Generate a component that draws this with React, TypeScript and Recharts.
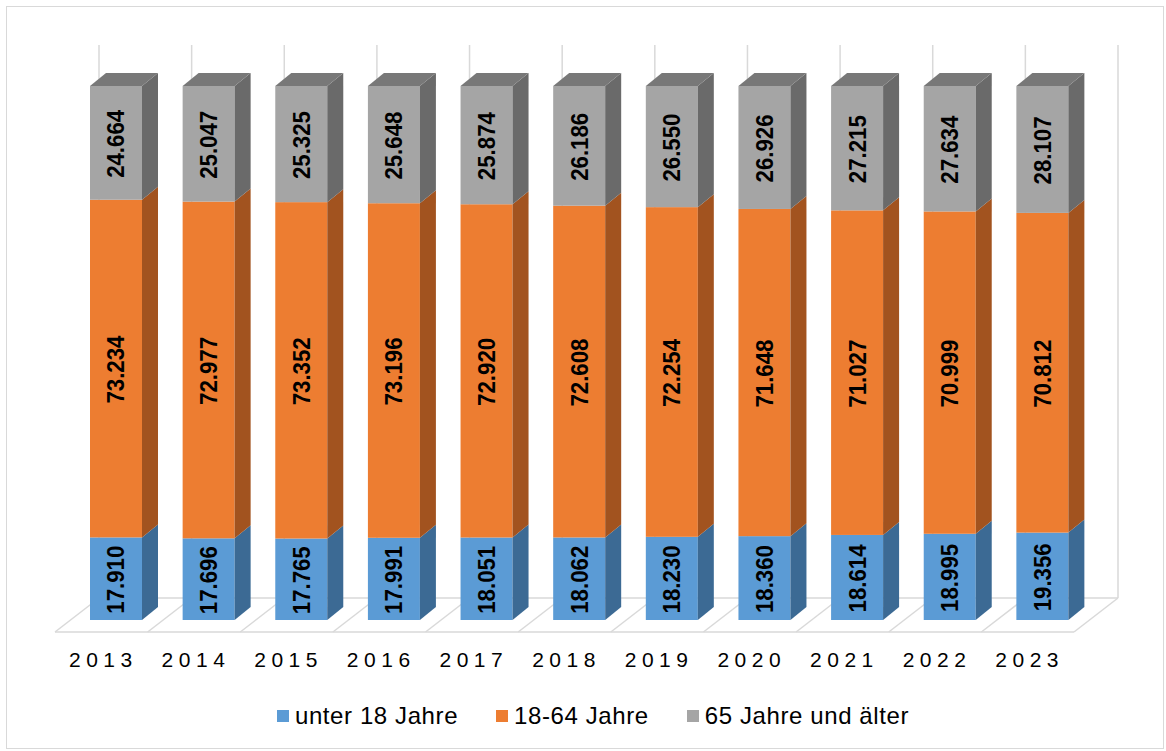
import React from 'react';
import { BarChart, Bar, XAxis, YAxis, LabelList, Legend } from 'recharts';

const years = ['2013', '2014', '2015', '2016', '2017', '2018', '2019', '2020', '2021', '2022', '2023'];
const under18 = [17910, 17696, 17765, 17991, 18051, 18062, 18230, 18360, 18614, 18995, 19356];
const age18to64 = [73234, 72977, 73352, 73196, 72920, 72608, 72254, 71648, 71027, 70999, 70812];
const age65plus = [24664, 25047, 25325, 25648, 25874, 26186, 26550, 26926, 27215, 27634, 28107];
const seriesNames = ['unter 18 Jahre', '18-64 Jahre', '65 Jahre und älter'];

const data = years.map((year, i) => ({
  year,
  u18: under18[i],
  mid: age18to64[i],
  old: age65plus[i],
}));

const W = 1166;
const H = 751;
const PLOT_LEFT = 70;
const PLOT_RIGHT = 1089;
const PLOT_TOP = 86;
const PLOT_BOTTOM = 620;
const BAND = (PLOT_RIGHT - PLOT_LEFT) / years.length;

// 3d depth of the boxes
const DX = 16;
const DY = -13;

const FONT = '"Liberation Sans", Arial, sans-serif';
const GRID = '#D9D9D9';

const fmt = (v: number) => `${Math.floor(v / 1000)}.${String(v % 1000).padStart(3, '0')}`;

const makeShape = (side: string, top?: string) => (props: any) => {
  const { x, y, width, height, fill } = props;
  if (!height || height <= 0) return <g />;
  const r = x + width;
  return (
    <g>
      <rect x={x} y={y} width={width} height={height} fill={fill} />
      <polygon
        points={`${r},${y} ${r + DX},${y + DY} ${r + DX},${y + height + DY} ${r},${y + height}`}
        fill={side}
      />
      {top && (
        <polygon
          points={`${x},${y} ${x + DX},${y + DY} ${r + DX},${y + DY} ${r},${y}`}
          fill={top}
        />
      )}
    </g>
  );
};

const renderValue = (props: any) => {
  const vb = props.viewBox || {};
  const x = props.x ?? vb.x;
  const y = props.y ?? vb.y;
  const width = props.width ?? vb.width;
  const height = props.height ?? vb.height;
  const cx = x + width / 2;
  const cy = y + height / 2 + 1;
  return (
    <text
      x={cx}
      y={cy}
      transform={`rotate(-90 ${cx} ${cy})`}
      textAnchor="middle"
      dominantBaseline="central"
      fontFamily={FONT}
      fontWeight="bold"
      fontSize={24}
      textLength={68}
      lengthAdjust="spacingAndGlyphs"
      fill="#000"
    >
      {fmt(Number(props.value))}
    </text>
  );
};

const YearTick = (props: any) => {
  const { x, payload } = props;
  return (
    <text
      x={x - 13}
      y={667}
      textAnchor="middle"
      fontFamily={FONT}
      fontSize={21}
      letterSpacing={5.5}
      fill="#000"
    >
      {payload.value}
    </text>
  );
};

const renderLegend = (props: any) => {
  const items = [...(props.payload || [])].sort(
    (a: any, b: any) => seriesNames.indexOf(a.value) - seriesNames.indexOf(b.value)
  );
  return (
    <div
      style={{
        display: 'flex',
        justifyContent: 'center',
        alignItems: 'center',
        paddingLeft: 20,
        fontFamily: FONT,
        fontSize: 24,
        letterSpacing: 0.6,
        color: '#000',
      }}
    >
      {items.map((it: any, i: number) => (
        <div key={i} style={{ display: 'flex', alignItems: 'center', marginRight: i < items.length - 1 ? 38 : 0 }}>
          <span style={{ width: 12, height: 12, background: it.color, marginRight: 6, display: 'inline-block' }} />
          <span>{it.value}</span>
        </div>
      ))}
    </div>
  );
};

// floor and back wall of the 3d plot area
const Backdrop = () => {
  const floorFront = 632;
  const floorBack = 598;
  const frontLeft = PLOT_LEFT - 15;
  const backLeft = PLOT_LEFT + 29;
  const lines = [];
  for (let i = 0; i <= years.length; i++) {
    const fx = frontLeft + i * BAND;
    const bx = backLeft + i * BAND;
    lines.push(<line key={`w${i}`} x1={bx} y1={45} x2={bx} y2={floorBack} stroke={GRID} strokeWidth={1.5} />);
    lines.push(<line key={`f${i}`} x1={fx} y1={floorFront} x2={bx} y2={floorBack} stroke={GRID} strokeWidth={1.5} />);
  }
  const frontRight = frontLeft + years.length * BAND;
  const backRight = backLeft + years.length * BAND;
  return (
    <svg width={W} height={H} style={{ position: 'absolute', left: 0, top: 0 }}>
      <rect x={6.5} y={6.5} width={W - 9} height={H - 9} fill="#fff" stroke={GRID} />
      {lines}
      <line x1={backLeft} y1={floorBack} x2={backRight} y2={floorBack} stroke={GRID} strokeWidth={1.5} />
      <line x1={frontLeft} y1={floorFront} x2={frontRight} y2={floorFront} stroke={GRID} strokeWidth={1.5} />
    </svg>
  );
};

export default function App() {
  return (
    <div style={{ position: 'absolute', left: 0, top: 0, width: W, height: H, background: '#fff' }}>
      <Backdrop />
      <div style={{ position: 'absolute', left: 0, top: 0 }}>
        <BarChart
          width={W}
          height={H}
          data={data}
          stackOffset="expand"
          barSize={52}
          margin={{ top: PLOT_TOP, right: W - PLOT_RIGHT, left: PLOT_LEFT, bottom: H - PLOT_BOTTOM - 30 }}
        >
          <XAxis dataKey="year" height={30} axisLine={false} tickLine={false} tick={<YearTick />} interval={0} />
          <YAxis hide domain={[0, 1]} />
          <Legend
            layout="horizontal"
            verticalAlign="middle"
            align="center"
            wrapperStyle={{ top: 702, left: 0, width: W }}
            content={renderLegend}
          />
          <Bar dataKey="u18" name={seriesNames[0]} stackId="a" fill="#5B9BD5" isAnimationActive={false} shape={makeShape('#3C6A94')}>
            <LabelList dataKey="u18" content={renderValue} />
          </Bar>
          <Bar dataKey="mid" name={seriesNames[1]} stackId="a" fill="#ED7D31" isAnimationActive={false} shape={makeShape('#A2531F')}>
            <LabelList dataKey="mid" content={renderValue} />
          </Bar>
          <Bar dataKey="old" name={seriesNames[2]} stackId="a" fill="#A5A5A5" isAnimationActive={false} shape={makeShape('#6A6A6A', '#787878')}>
            <LabelList dataKey="old" content={renderValue} />
          </Bar>
        </BarChart>
      </div>
    </div>
  );
}
